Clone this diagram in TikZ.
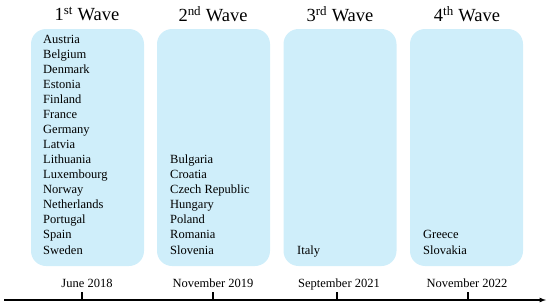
\documentclass[tikz,border=0pt]{standalone}
\usepackage{fontspec}
\setmainfont{Liberation Serif}
\usepackage{tikz}
\usetikzlibrary{arrows, positioning}
\definecolor{wavecyan}{RGB}{207, 238, 250}

\begin{document}
\begin{tikzpicture}[x=1pt, y=-1pt,
    wavebox/.style={fill=wavecyan, rounded corners=15pt, minimum width=113pt, minimum height=237pt, inner sep=0pt},
    wavetitle/.style={font=\fontsize{18.5}{22}\selectfont, inner sep=0pt},
    countries/.style={anchor=base west, align=left, font=\fontsize{12.5}{15.07}\selectfont, inner sep=0pt},
    datelabel/.style={anchor=base, font=\fontsize{12.5}{15}\selectfont, inner sep=0pt}
]
\useasboundingbox (0,0) rectangle (550,308);

\node[wavebox] (wave1) at (87.5,147.5) {};
\node[wavebox] (wave2) at (213.5,147.5) {};
\node[wavebox] (wave3) at (340,147.5) {};
\node[wavebox] (wave4) at (466.5,147.5) {};

\node[wavetitle] (title1) at (87,14) {1\textsuperscript{st} Wave};
\node[wavetitle] (title2) at (213,14) {2\textsuperscript{nd} Wave};
\node[wavetitle] (title3) at (340,14) {3\textsuperscript{rd} Wave};
\node[wavetitle] (title4) at (467,14) {4\textsuperscript{th} Wave};

% lists sit on the baseline of their last line
\node[countries] (list1) at (43,254) {Austria\\Belgium\\Denmark\\Estonia\\Finland\\France\\Germany\\Latvia\\Lithuania\\Luxembourg\\Norway\\Netherlands\\Portugal\\Spain\\Sweden};
\node[countries] (list2) at (170,254) {Bulgaria\\Croatia\\Czech Republic\\Hungary\\Poland\\Romania\\Slovenia};
\node[countries] (list3) at (297,254) {Italy};
\node[countries] (list4) at (423,254) {Greece\\Slovakia};

% timeline
\coordinate (start) at (4,300);
\coordinate (end) at (546,300);
\coordinate (tick1) at (82,300);
\coordinate (tick2) at (213,300);
\coordinate (tick3) at (337,300);
\coordinate (tick4) at (468,300);
\draw[-latex, line width=1.2pt] (start) -- (end);
\draw[line width=1.2pt] (tick1) -- ++(0,-8);
\draw[line width=1.2pt] (tick2) -- ++(0,-8);
\draw[line width=1.2pt] (tick3) -- ++(0,-8);
\draw[line width=1.2pt] (tick4) -- ++(0,-8);

\node[datelabel] (date1) at (87,287) {June 2018};
\node[datelabel] (date2) at (213,287) {November 2019};
\node[datelabel] (date3) at (339,287) {September 2021};
\node[datelabel] (date4) at (467,287) {November 2022};
\end{tikzpicture}
\end{document}
